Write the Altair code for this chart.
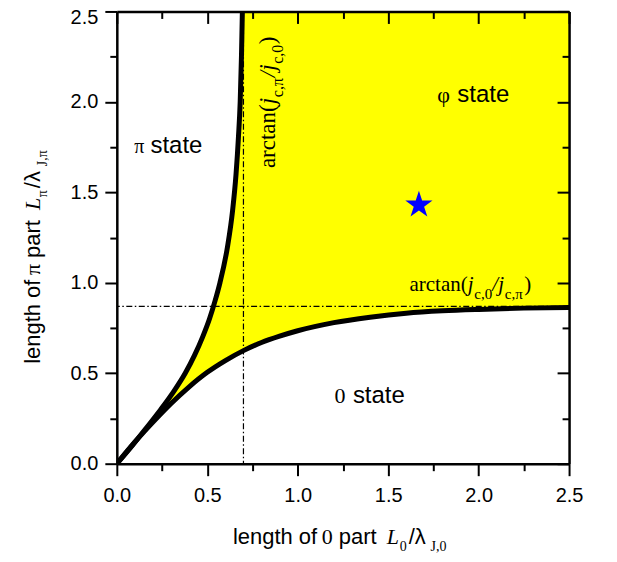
import altair as alt
import pandas as pd

# ---------------- data ----------------
# lower boundary (0 state / phi state)
lower_x = [0.0, 0.1, 0.2, 0.3, 0.4, 0.5, 0.6, 0.7, 0.8, 0.9, 1.0, 1.2, 1.4, 1.6, 1.8, 2.0, 2.25, 2.5]
lower_y = [0.0, 0.12, 0.23, 0.333, 0.425, 0.505, 0.57, 0.625, 0.67, 0.705, 0.735, 0.78, 0.81, 0.832, 0.845, 0.853, 0.86, 0.864]
# upper-left boundary (pi state / phi state)
upper_y = [0.0, 0.1, 0.2, 0.3, 0.4, 0.5, 0.6, 0.7, 0.8, 0.9, 1.0, 1.2, 1.4, 1.6, 1.8, 2.0, 2.25, 2.5]
upper_x = [0.0, 0.085, 0.165, 0.243, 0.315, 0.378, 0.43, 0.474, 0.512, 0.543, 0.570, 0.612, 0.640, 0.659, 0.672, 0.682, 0.689, 0.694]
# asymptotes
asym_x = [0.70]   # arctan(j_c,pi / j_c,0)
asym_y = [0.87]   # arctan(j_c,0 / j_c,pi)
# star marker
star_x = [1.67]
star_y = [1.43]
major_ticks = [0.0, 0.5, 1.0, 1.5, 2.0, 2.5]
minor_ticks = [0.25, 0.75, 1.25, 1.75, 2.25]
AXIS_MAX = 2.5

lower = pd.DataFrame({"x": lower_x, "y": lower_y})
upper = pd.DataFrame({"x": upper_x, "y": upper_y})
star = pd.DataFrame({"x": star_x, "y": star_y})

SANS = "Liberation Sans"
SERIF = "Liberation Serif"
XS = alt.Scale(domain=[0, AXIS_MAX], nice=False, zero=False)
YS = alt.Scale(domain=[0, AXIS_MAX], nice=False, zero=False)
PX0, PY0 = 116.7, 11.0   # page position of plot origin (top-left)


def X(axis=None, field="x"):
    return alt.X(f"{field}:Q", scale=XS, axis=axis, title=None)


def Y(axis=None, field="y"):
    return alt.Y(f"{field}:Q", scale=YS, axis=axis, title=None)


# ---------------- fills ----------------
# yellow: everything above the lower boundary
yellow = alt.Chart(lower).mark_area(color="#ffff00", opacity=1, stroke=None).encode(
    x=X(), y=Y(), y2=alt.datum(AXIS_MAX))
# white: pi-state region above the upper-left boundary
white = alt.Chart(upper).mark_area(color="white", opacity=1, stroke=None).encode(
    x=X(), y=Y(), y2=alt.datum(AXIS_MAX))

# ---------------- asymptote dash-dot lines ----------------
DASH = [6, 2.5, 1.5, 2.5]
vrule = alt.Chart(pd.DataFrame({"x": asym_x})).mark_rule(
    color="black", strokeWidth=1.2, strokeDash=DASH).encode(x=X())
hrule = alt.Chart(pd.DataFrame({"y": asym_y})).mark_rule(
    color="black", strokeWidth=1.2, strokeDash=DASH).encode(y=Y())

# ---------------- boundary curves ----------------
lower_line = alt.Chart(lower).mark_line(color="black", strokeWidth=5, interpolate="monotone", clip=True).encode(
    x=X(), y=Y(), order="x:Q")
upper_line = alt.Chart(upper).mark_line(color="black", strokeWidth=5, interpolate="monotone", clip=True).encode(
    x=X(), y=Y(), order="y:Q")

STAR = ("M0,-1L0.2245,-0.309L0.9511,-0.309L0.3633,0.118L0.5878,0.809L0,0.382"
        "L-0.5878,0.809L-0.3633,0.118L-0.9511,-0.309L-0.2245,-0.309Z")
star_mark = alt.Chart(star).mark_point(shape=STAR, filled=True, color="#0000ff", size=820, opacity=1).encode(
    x=X(), y=Y())


# ---------------- text helpers ----------------
def dtext(t, x, y, font=SANS, size=24, style="normal", angle=0):
    kw = dict(text=t, font=font, fontSize=size, fontStyle=style, align="left",
              baseline="alphabetic", color="black")
    if angle:
        kw["angle"] = angle
    return alt.Chart(pd.DataFrame({"x": [x], "y": [y]})).mark_text(**kw).encode(x=X(), y=Y())


def ptext(t, px, py, font=SANS, size=22, style="normal", angle=0):
    kw = dict(text=t, font=font, fontSize=size, fontStyle=style, align="left",
              baseline="alphabetic", color="black")
    if angle:
        kw["angle"] = angle
    return alt.Chart(pd.DataFrame({"a": [0]})).mark_text(**kw).encode(
        x=alt.value(px - PX0), y=alt.value(py - PY0))


# title layout (offsets along the text direction)
T_OFF = {"length of": 0, "zero": 89, "part": 106, "L": 154, "sub1": 167, "lam": 176, "sub2": 198}

texts = [
    # state labels
    dtext("π", 0.096, 1.717, font=SERIF, size=20), dtext("state", 0.186, 1.717),
    dtext("φ", 1.772, 2.0, font=SERIF, size=22), dtext("state", 1.882, 2.0),
    dtext("0", 1.204, 0.333, font=SERIF, size=22), dtext("state", 1.305, 0.333),
    # horizontal arctan label
    dtext("arctan(", 1.618, 0.952, font=SERIF, size=21),
    dtext("j", 1.940, 0.952, font=SERIF, size=21, style="italic"),
    dtext("c,0", 1.976, 0.911, font=SERIF, size=15),
    dtext("/", 2.076, 0.952, font=SERIF, size=21, style="italic"),
    dtext("j", 2.109, 0.952, font=SERIF, size=21, style="italic"),
    dtext("c,π", 2.145, 0.911, font=SERIF, size=15),
    dtext(")", 2.252, 0.952, font=SERIF, size=21),
    # rotated arctan label
    dtext("arctan(", 0.873, 1.634, font=SERIF, size=23, angle=270),
    dtext("j", 0.873, 1.987, font=SERIF, size=23, style="italic", angle=270),
    dtext("c,π", 0.918, 2.026, font=SERIF, size=16, angle=270),
    dtext("/", 0.873, 2.136, font=SERIF, size=23, style="italic", angle=270),
    dtext("j", 0.873, 2.172, font=SERIF, size=23, style="italic", angle=270),
    dtext("c,0", 0.918, 2.211, font=SERIF, size=16, angle=270),
    dtext(")", 0.873, 2.318, font=SERIF, size=23, angle=270),
]

# x axis title
XT0, XB, XSB = 233, 544, 551
texts += [
    ptext("length of", XT0 + T_OFF["length of"], XB),
    ptext("0", XT0 + T_OFF["zero"], XB, font=SERIF),
    ptext("part", XT0 + T_OFF["part"], XB),
    ptext("L", XT0 + T_OFF["L"], XB, font=SERIF, style="italic"),
    ptext("0", XT0 + T_OFF["sub1"], XSB, font=SERIF, size=14),
    ptext("/λ", XT0 + T_OFF["lam"], XB),
    ptext("J,0", XT0 + T_OFF["sub2"], XSB, font=SERIF, size=14),
]
# y axis title (rotated, reading upwards)
YT0, YB, YSB = 364, 40, 47
texts += [
    ptext("length of", YB, YT0 - T_OFF["length of"], angle=270),
    ptext("π", YB, YT0 - T_OFF["zero"], font=SERIF, angle=270),
    ptext("part", YB, YT0 - T_OFF["part"], angle=270),
    ptext("L", YB, YT0 - T_OFF["L"], font=SERIF, style="italic", angle=270),
    ptext("π", YSB, YT0 - T_OFF["sub1"], font=SERIF, size=14, angle=270),
    ptext("/λ", YB, YT0 - T_OFF["lam"], angle=270),
    ptext("J,π", YSB, YT0 - T_OFF["sub2"], font=SERIF, size=14, angle=270),
]


# ---------------- axes ----------------
def ax(orient, values=None, size=0, labels=False, offset=0, domain=False, ticks=True):
    kw = dict(orient=orient, labels=labels, domain=domain, grid=False, zindex=2, ticks=ticks)
    if values is not None:
        kw["values"] = values
    if offset:
        kw["offset"] = offset
    if ticks:
        kw.update(tickSize=size, tickWidth=2, tickColor="black")
    if labels:
        kw.update(format=".1f", labelFont=SANS, labelFontSize=20, labelColor="black",
                  labelPadding=(10 if orient in ("bottom", "top") else 7),
                  labelFlush=False, labelOverlap=False)
        if orient == "left":
            kw["labelOffset"] = {"condition": {"test": "datum.value == 2.5", "value": 6}, "value": 0}
    if domain:
        kw.update(domainColor="black", domainWidth=2.5)
    return alt.Axis(**kw)


def axis_layer(xa, ya):
    return alt.Chart(lower).mark_point(opacity=0).encode(x=X(xa), y=Y(ya))


axes = [
    axis_layer(ax("bottom", major_ticks, 12, labels=True, domain=True),
               ax("left", major_ticks, 12, labels=True, domain=True)),
    axis_layer(ax("bottom", minor_ticks, 7), ax("left", minor_ticks, 7)),
    axis_layer(ax("top", major_ticks, 12, offset=-12), ax("right", major_ticks, 12, offset=-12)),
    axis_layer(ax("top", minor_ticks, 7, offset=-7), ax("right", minor_ticks, 7, offset=-7)),
    axis_layer(ax("top", domain=True, ticks=False), ax("right", domain=True, ticks=False)),
]

chart = alt.layer(
    yellow, white, vrule, hrule, lower_line, upper_line, star_mark, *texts, *axes
).resolve_axis(x="independent", y="independent").properties(
    width=453, height=453,
    autosize=alt.AutoSizeParams(type="none"),
    padding={"left": 109, "top": 3, "right": 40, "bottom": 90},
).configure_view(stroke=None).configure(background="white")

chart.save("out.html", embed_options={"renderer": "svg", "actions": False})
